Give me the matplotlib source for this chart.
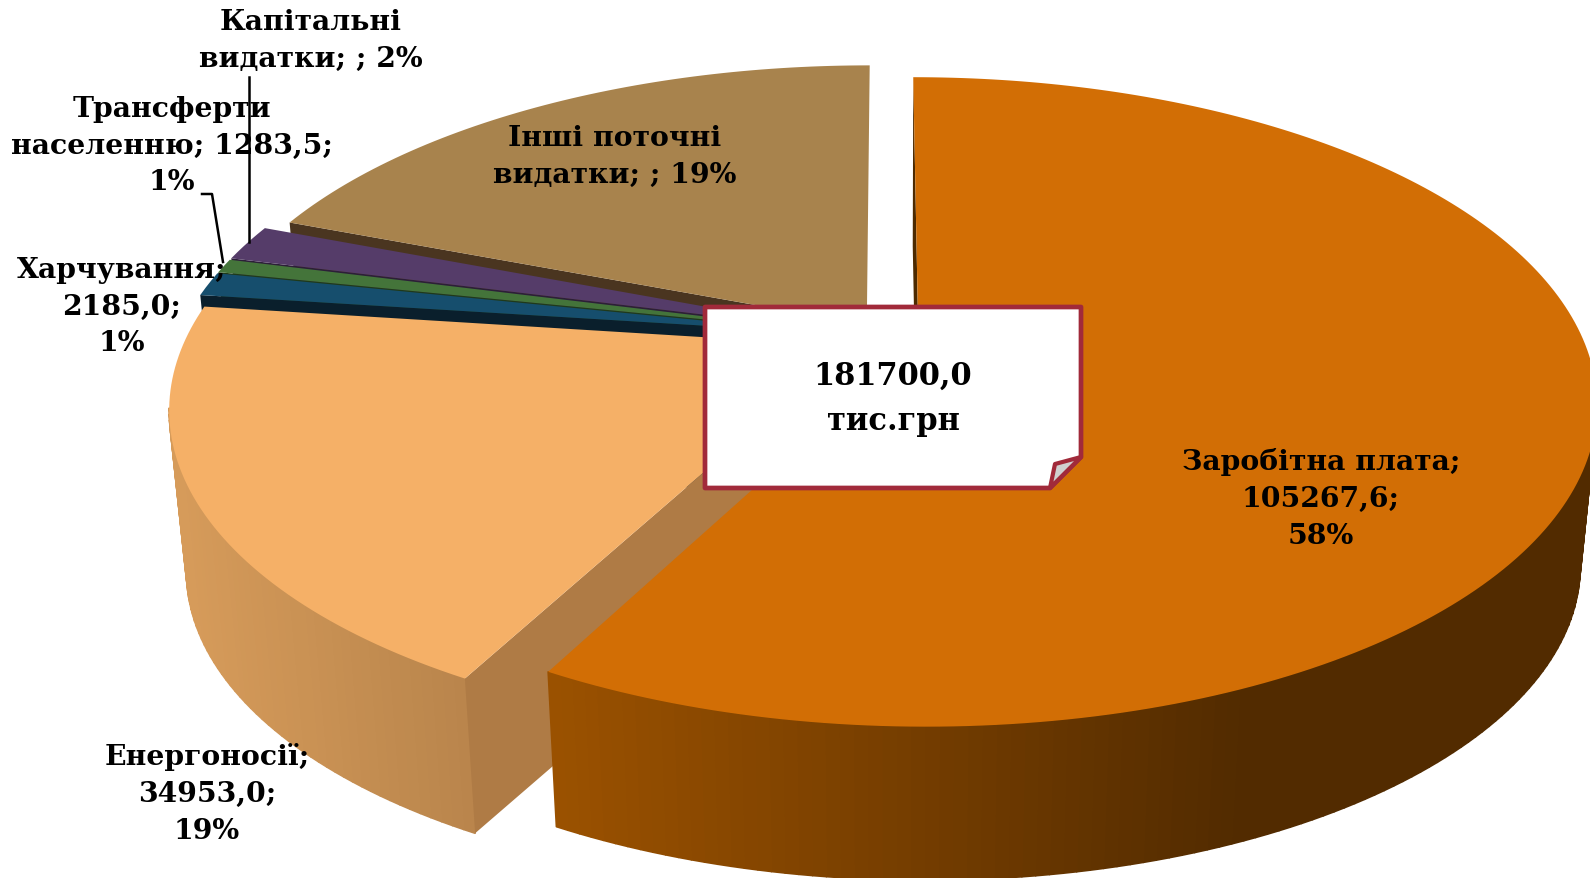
import numpy as np
import matplotlib
matplotlib.use('Agg')
from matplotlib.pyplot import figure
from matplotlib.collections import PolyCollection
from matplotlib.colors import to_rgb

# clockwise from 12 o'clock
categories = ['Заробітна плата', 'Енергоносії', 'Харчування',
              'Трансферти населенню', 'Капітальні видатки', 'Інші поточні видатки']
values = [105267.6, 34953.0, 2185.0, 1283.5, 3300.0, 35000.0]
total_label = ['181700,0', 'тис.грн']

label_texts = ['Заробітна плата;\n105267,6;\n58%',
               'Енергоносії;\n34953,0;\n19%',
               'Харчування;\n2185,0;\n1%',
               'Трансферти\nнаселенню; 1283,5;\n1%',
               'Капітальні\nвидатки; ; 2%',
               'Інші поточні\nвидатки; ; 19%']
label_xy = [(1321, 499), (207, 794), (122, 307), (172, 146), (311, 41), (615, 157)]

top_colors = ['#d26e05', '#f5b067', '#164e6d', '#44743a', '#553c69', '#a8834d']
cut_colors = ['#4d2a00', '#af7b45', '#0a1f2c', '#1f3a1a', '#2c1f38', '#4a3520']
wall_left = ['#9c5200', '#d69b5a', '#0e3048', '#2a4a24', '#3a2848', '#6e5532']
wall_right = ['#522b00', '#b9854c', '#0e3048', '#2a4a24', '#3a2848', '#6e5532']
explode = [0.051, 0.06, 0.068, 0.068, 0.068, 0.05]

# perspective of the pie, figure pixels
cx, cy = 885.5, 338.5
ax_u, ax_v, persp = 664.0, 312.0, 0.186
vx, shrink, drop = 892.0, 0.976, 171.0


def project(u, v):
    w = 1 + persp*v
    return cx + ax_u*u/w, cy - ax_v*v/w


def lower(x, y):
    return vx + (x - vx)*shrink, y*shrink + drop


fg = figure(figsize=(15.9, 8.79), dpi=100)
ax = fg.add_axes([0, 0, 1, 1])
ax.set_xlim(0, 1590)
ax.set_ylim(879, 0)
ax.axis('off')

fr = np.cumsum([0] + values)/np.sum(values)*2*np.pi

#%% slices, back to front
for i in reversed(range(len(values))):
    t1, t2 = fr[i], fr[i+1]
    mid = (t1 + t2)/2
    eu, ev = explode[i]*np.sin(mid), explode[i]*np.cos(mid)
    t = np.linspace(t1, t2, max(4, int(np.degrees(t2 - t1))))
    xr, yr = project(eu + np.sin(t), ev + np.cos(t))
    xa, ya = project(eu, ev)
    xl, yl = lower(xr, yr)
    xb, yb = lower(xa, ya)

    # outer wall, shaded left to right, only the front part shows
    front = [j for j in range(len(t) - 1) if np.cos(t[j]) < -0.18 and np.cos(t[j+1]) < -0.18]
    quads = [[(xr[j], yr[j]), (xr[j+1], yr[j+1]), (xl[j+1], yl[j+1]), (xl[j], yl[j])]
             for j in front]
    if i == 0:
        f = np.clip((xr[front] - 545)/(1250 - 545), 0, 1)
    else:
        f = np.clip((xr[front] - 180)/(470 - 180), 0, 1)
    c0, c1 = np.array(to_rgb(wall_left[i])), np.array(to_rgb(wall_right[i]))
    cols = [tuple(c0 + (c1 - c0)*q) for q in f]
    if quads:
        ax.add_collection(PolyCollection(quads, facecolors=cols, edgecolors=cols, linewidths=1.2))

    # cut face on the clockwise start side
    ax.fill([xa, xr[0], xl[0], xb], [ya, yr[0], yl[0], yb], color=cut_colors[i], lw=0)

    # top face
    ax.fill(np.r_[xa, xr], np.r_[ya, yr], color=top_colors[i], lw=0)

#%% leader lines
ax.plot([249, 249], [78, 243], color='k', lw=1.8)
ax.plot([202, 212, 223], [195, 195, 263], color='k', lw=1.8)

#%% labels
font = dict(family='DejaVu Serif', weight='bold', color='k', ha='center', va='center',
            multialignment='center')
for txt, (x, y) in zip(label_texts, label_xy):
    ax.text(x, y, txt, fontsize=20.3, linespacing=1.46, **font)

#%% total box with folded corner
edge = '#a12a3a'
ax.fill([705, 1081, 1081, 1050, 705], [308, 308, 458, 489, 489], facecolor='w',
        edgecolor=edge, lw=3.4, joinstyle='round')
ax.fill([1081, 1055, 1050], [458, 465, 489], facecolor='#d0d0d0', edgecolor=edge, lw=3.0,
        joinstyle='round')
ax.text(893, 399, '\n'.join(total_label), fontsize=22, linespacing=1.6, **font)

fg.savefig('out.png', dpi=100)
